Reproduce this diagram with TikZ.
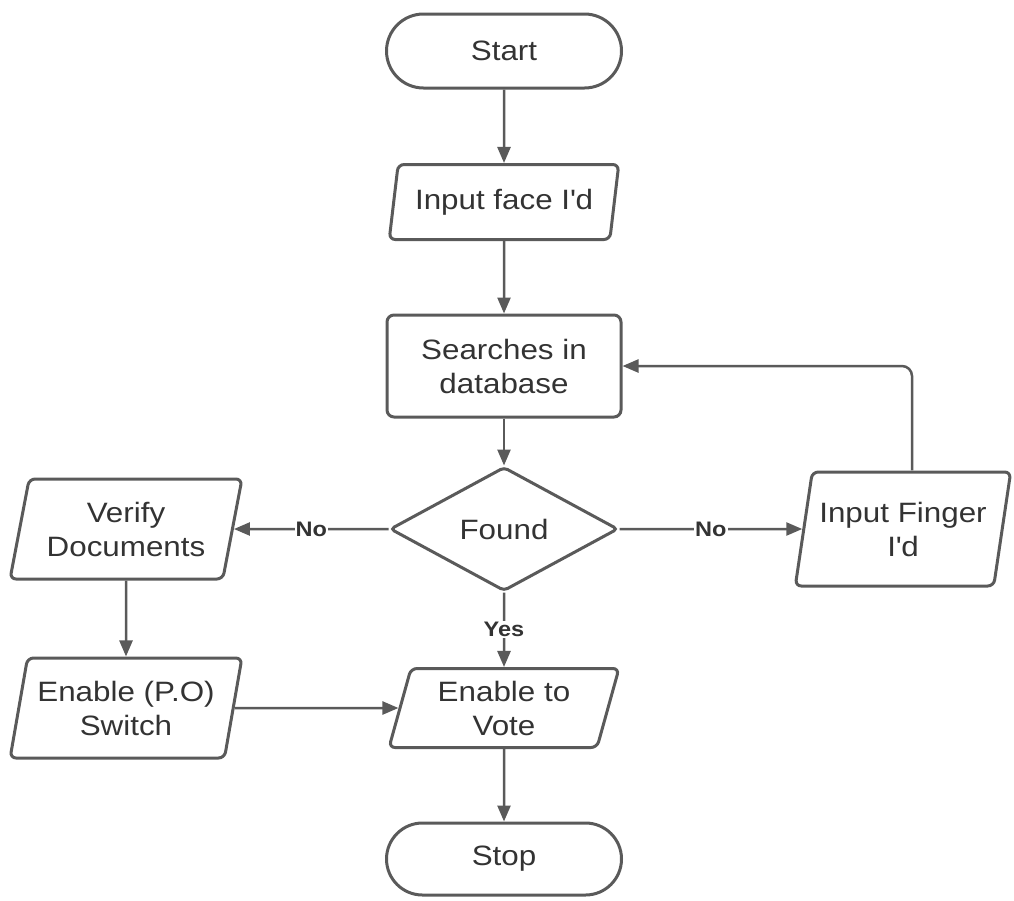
\documentclass[tikz,border=0pt]{standalone}
\usepackage{fontspec}
\setmainfont[FakeStretch=1.12]{Liberation Sans}
\usetikzlibrary{shapes.geometric,shapes.misc,arrows.meta}
\definecolor{ln}{HTML}{5A5A5A}
\definecolor{tx}{HTML}{333333}
\begin{document}
\begin{tikzpicture}[x=1pt,y=-1pt,
 base/.style={draw=ln, line width=3pt, text=tx, font=\fontsize{28}{34}\selectfont, align=center, inner sep=0pt},
 term/.style={base, rounded rectangle, minimum width=235pt, minimum height=74pt},
 io/.style={base, trapezium, trapezium left angle=74, trapezium right angle=106, trapezium stretches=true, rounded corners=6pt},
 proc/.style={base, rectangle, rounded corners=7pt, minimum width=234pt, minimum height=102pt},
 dec/.style={base, diamond, minimum width=228pt, minimum height=124pt, rounded corners=4pt},
 arr/.style={draw=ln, line width=2.5pt, -{Triangle[length=16pt,width=13pt]}},
 lbl/.style={fill=white, text=tx, font=\bfseries\fontsize{21}{24}\selectfont, inner sep=1pt}]
\useasboundingbox (0,0) rectangle (1014,900);
\node[term] (start) at (504,51) {Start};
\node[io, minimum width=230pt, minimum height=75pt] (face) at (504,202) {Input face I\textquotesingle d};
\node[proc] (search) at (504,366) {Searches in\\database};
\node[dec] (found) at (504,529) {Found};
\node[io, minimum width=232pt, minimum height=100pt] (verify) at (126,529) {Verify\\Documents};
\node[io, minimum width=216pt, minimum height=114pt] (finger) at (903,529) {Input Finger\\I\textquotesingle d};
\node[io, minimum width=232pt, minimum height=100pt] (enpo) at (126,708) {Enable (P.O)\\Switch};
\node[io, minimum width=230pt, minimum height=79pt] (vote) at (504,708) {Enable to\\Vote};
\node[term, minimum height=72pt] (stop) at (504,859) {Stop};

\draw[arr] (start) -- (face);
\draw[arr] (face) -- (search);
\draw[arr] (search) -- (found);
\draw[arr] (found.west) -- node[lbl]{No} (verify.east);
\draw[arr] (found.east) -- node[lbl]{No} (finger.west);
\draw[arr] (found.south) -- node[lbl]{Yes} (vote.north);
\draw[arr] (verify.south) -- (enpo.north);
\draw[arr] (enpo.east) -- (vote.west);
\draw[arr] (vote) -- (stop);
\draw[arr, rounded corners=10pt] ([xshift=9pt]finger.north) |- (search.east);
\end{tikzpicture}
\end{document}
